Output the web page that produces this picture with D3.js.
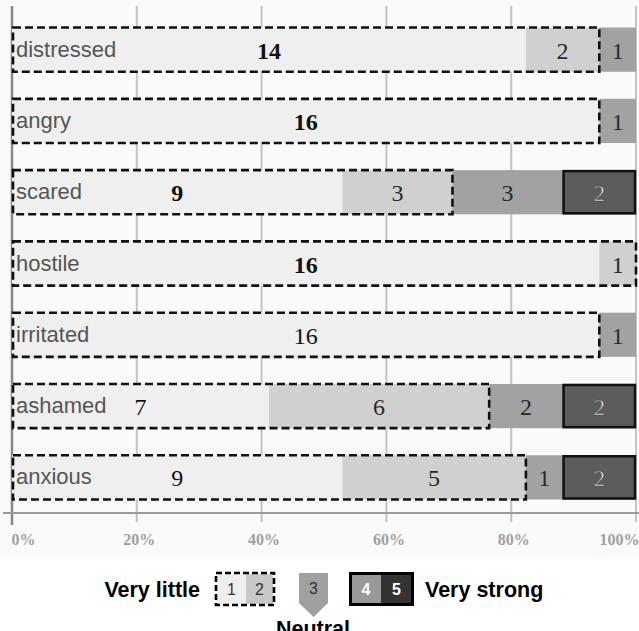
<!DOCTYPE html>
<meta charset="utf-8">
<style>
    body{ margin:0; background:#fff; }
    .rowlabel{ font-family:"Liberation Sans", Arial, sans-serif; font-size:22px; fill:#555; }
    .count{ font-family:"Liberation Serif", "Times New Roman", serif; font-size:24px; text-anchor:middle; }
    .tick text{ font-family:"Liberation Serif", "Times New Roman", serif; font-size:16px; font-weight:bold; fill:#a0a0a0; }
    .legend{ font-family:"Liberation Sans", Arial, sans-serif; font-weight:bold; font-size:21.5px; fill:#000; }
    .legnum{ font-family:"Liberation Sans", Arial, sans-serif; font-size:16px; text-anchor:middle; }
</style>
<body>
<svg id="chart" width="639" height="631"></svg>
</body>
<script src="https://d3js.org/d3.v7.min.js"></script>
<script>
// how many people rated each emotion 1..5
var emotions = ["distressed", "angry", "scared", "hostile", "irritated", "ashamed", "anxious"];
var rating1 = [14, 16, 9, 16, 16, 7, 9];
var rating2 = [2, 0, 3, 1, 0, 6, 5];
var rating3 = [1, 1, 3, 0, 1, 2, 1];
var rating4 = [0, 0, 0, 0, 0, 0, 0];
var rating5 = [0, 0, 2, 0, 0, 2, 2];
var ratingKeys = ["r1", "r2", "r3", "r4", "r5"];
var xTicks = [0, 0.2, 0.4, 0.6, 0.8, 1];
var legendLow = "Very little", legendMid = "Neutral", legendHigh = "Very strong";

var rows = emotions.map(function(e, i) {
    return {name: e, r1: rating1[i], r2: rating2[i], r3: rating3[i], r4: rating4[i], r5: rating5[i]};
});

var svg = d3.select("#chart");
var W = 639;

// light panel behind the plot
svg.append("rect").attr("x", 0).attr("y", 0).attr("width", W).attr("height", 558).attr("fill", "#fafafa");

var x = d3.scaleLinear().domain([0, 1]).range([12, 636]);
var y = d3.scaleBand().domain(emotions).range([14, 513]).paddingInner(0.38).paddingOuter(0.19);
var color = d3.scaleOrdinal().domain(ratingKeys)
    .range(["#efefef", "#d0d0d0", "#a2a2a2", "#808080", "#5c5c5c"]);

var series = d3.stack().keys(ratingKeys).offset(d3.stackOffsetExpand)(rows);

// gridlines
svg.append("g").selectAll("line")
    .data(xTicks)
    .enter().append("line")
        .attr("x1", function(d) {return x(d);})
        .attr("x2", function(d) {return x(d);})
        .attr("y1", 6)
        .attr("y2", function(d) {return d == 0 ? 525 : 522;})
        .attr("stroke", function(d) {return d == 0 ? "#888" : "#c4c4c4";})
        .attr("stroke-width", function(d) {return d == 0 ? 2.5 : 2;});

// axis
var axis = svg.append("g")
    .attr("transform", "translate(0,513)")
    .call(d3.axisBottom(x).tickValues(xTicks).tickFormat(d3.format(".0%")).tickSize(0).tickPadding(21));
axis.select(".domain").remove();
axis.selectAll(".tick text")
    .attr("text-anchor", function(d) {return d == 0 ? "start" : (d == 1 ? "end" : "middle");})
    .attr("dx", function(d) {return d == 0 ? -1 : (d == 1 ? 3 : 2);});
svg.append("line").attr("x1", 3).attr("x2", W).attr("y1", 513).attr("y2", 513)
    .attr("stroke", "#9a9a9a").attr("stroke-width", 2);

// segments
var seg = svg.append("g").selectAll("g")
    .data(series)
    .enter().append("g")
        .attr("fill", function(s) {return color(s.key);});
seg.selectAll("rect")
    .data(function(s) {return s;})
    .enter().append("rect")
        .attr("x", function(d) {return x(d[0]);})
        .attr("width", function(d) {return x(d[1]) - x(d[0]);})
        .attr("y", function(d) {return y(d.data.name);})
        .attr("height", y.bandwidth());

// dashed box round ratings 1-2, solid box round ratings 4-5
var low = series[1], high = series[4], highStart = series[3];
svg.append("g").selectAll("rect")
    .data(low)
    .enter().append("rect")
        .attr("x", function(d) {return x(0) + 1;})
        .attr("width", function(d) {return x(d[1]) - x(0) - 1;})
        .attr("y", function(d) {return y(d.data.name);})
        .attr("height", y.bandwidth())
        .attr("fill", "none")
        .attr("stroke", "#111")
        .attr("stroke-width", 2.6)
        .attr("stroke-dasharray", "8,4");
svg.append("g").selectAll("rect")
    .data(high.filter(function(d) {return d[1] > highStart[rows.indexOf(d.data)][0];}))
    .enter().append("rect")
        .attr("x", function(d) {return x(highStart[rows.indexOf(d.data)][0]) + 1;})
        .attr("width", function(d) {return x(d[1]) - x(highStart[rows.indexOf(d.data)][0]) - 2;})
        .attr("y", function(d) {return y(d.data.name) + 1;})
        .attr("height", y.bandwidth() - 2)
        .attr("fill", "none")
        .attr("stroke", "#111")
        .attr("stroke-width", 2.5);

// row labels
svg.append("g").selectAll("text")
    .data(emotions)
    .enter().append("text")
        .attr("class", "rowlabel")
        .attr("x", 16)
        .attr("y", function(d) {return y(d) + y.bandwidth() / 2 + 7;})
        .text(function(d) {return d;});

// counts
var boldRows = ["distressed", "angry", "scared", "hostile"];
series.forEach(function(s) {
    svg.append("g").selectAll("text")
        .data(s.filter(function(d) {return d.data[s.key] > 0;}))
        .enter().append("text")
            .attr("class", "count")
            .attr("x", function(d) {return (x(d[0]) + x(d[1])) / 2;})
            .attr("y", function(d) {return y(d.data.name) + y.bandwidth() / 2 + 9;})
            .attr("font-weight", function(d) {return s.key == "r1" && boldRows.indexOf(d.data.name) >= 0 ? "bold" : "normal";})
            .attr("fill", s.key == "r5" ? "#e4e4e4" : (s.key == "r1" ? "#111" : "#2a2a2a"))
            .attr("stroke", s.key == "r5" ? "#333" : "none")
            .attr("stroke-width", 0.5)
            .text(function(d) {return d.data[s.key];});
});

// legend
var lg = svg.append("g");
lg.append("text").attr("class", "legend").attr("x", 200).attr("y", 597).attr("text-anchor", "end").text(legendLow);
var lowCells = [{k: "1", x0: 217, x1: 246, c: "#efefef"}, {k: "2", x0: 246, x1: 273, c: "#c8c8c8"}];
var highCells = [{k: "4", x0: 351, x1: 381, c: "#999"}, {k: "5", x0: 381, x1: 412, c: "#333"}];
lg.selectAll(".lowcell").data(lowCells).enter().append("rect")
    .attr("x", function(d) {return d.x0;}).attr("width", function(d) {return d.x1 - d.x0;})
    .attr("y", 574).attr("height", 30).attr("fill", function(d) {return d.c;});
lg.selectAll(".lownum").data(lowCells).enter().append("text")
    .attr("class", "legnum").attr("x", function(d) {return (d.x0 + d.x1) / 2;}).attr("y", 595)
    .attr("fill", "#333").text(function(d) {return d.k;});
lg.append("rect").attr("x", 216).attr("y", 573).attr("width", 58).attr("height", 32)
    .attr("fill", "none").attr("stroke", "#000").attr("stroke-width", 2.6).attr("stroke-dasharray", "6,3");

lg.append("path").attr("d", "M299,573H328V603L313.5,617L299,603Z").attr("fill", "#a0a0a0");
lg.append("text").attr("class", "legnum").attr("x", 313.5).attr("y", 594).attr("fill", "#333").text("3");
lg.append("text").attr("class", "legend").attr("x", 313).attr("y", 636).attr("text-anchor", "middle").text(legendMid);

lg.selectAll(".highcell").data(highCells).enter().append("rect")
    .attr("x", function(d) {return d.x0;}).attr("width", function(d) {return d.x1 - d.x0;})
    .attr("y", 574).attr("height", 30).attr("fill", function(d) {return d.c;});
lg.selectAll(".highnum").data(highCells).enter().append("text")
    .attr("class", "legnum").attr("x", function(d) {return (d.x0 + d.x1) / 2;}).attr("y", 595)
    .attr("fill", "#fff").attr("font-weight", "bold").text(function(d) {return d.k;});
lg.append("rect").attr("x", 350.5).attr("y", 573.5).attr("width", 62).attr("height", 31)
    .attr("fill", "none").attr("stroke", "#000").attr("stroke-width", 3);
lg.append("text").attr("class", "legend").attr("x", 425).attr("y", 597).text(legendHigh);
</script>
